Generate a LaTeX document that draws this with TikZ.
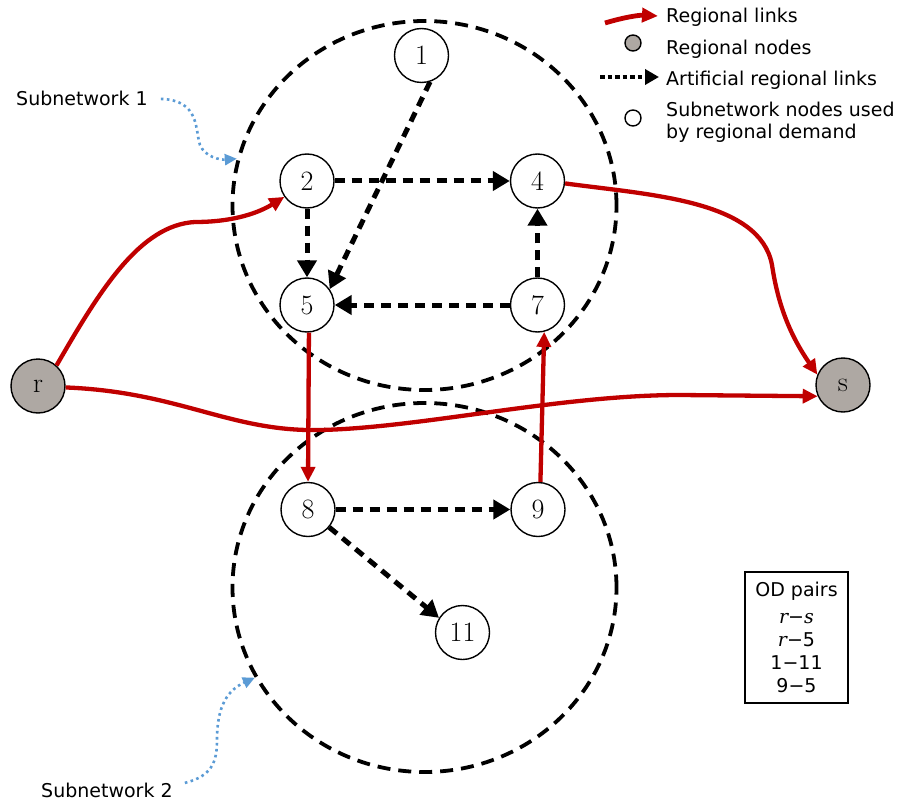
\documentclass[tikz,border=0pt]{standalone}
\usepackage{fontspec}
\newfontfamily\lgd{DejaVu Sans}
\newfontfamily\odserif{DejaVu Serif}
\usetikzlibrary{arrows.meta,shapes.geometric}

\definecolor{linkred}{HTML}{C00000}
\definecolor{regionalgray}{HTML}{AEA8A3}
\definecolor{noteblue}{HTML}{5B9BD5}

\begin{document}
\begin{tikzpicture}[x=1pt,y=-1pt,
  subnet/.style={ellipse, draw, line width=3.8pt, dash pattern=on 13pt off 8pt,
    minimum width=384pt, minimum height=369pt, inner sep=0pt},
  netnode/.style={circle, draw, line width=1.4pt, fill=white, minimum size=54pt,
    inner sep=0pt, font=\fontsize{28}{32}\selectfont},
  regnode/.style={netnode, fill=regionalgray},
  artlink/.style={line width=5pt, dash pattern=on 10pt off 7pt,
    -{Triangle[length=17pt,width=19pt]}},
  reglink/.style={line width=4.3pt, linkred,
    -{Triangle[length=15pt,width=14pt]}},
  notearrow/.style={line width=2.6pt, noteblue, dash pattern=on 2.6pt off 3.4pt,
    -{Triangle[length=12pt,width=11pt]}},
  lgdtext/.style={font=\lgd\fontsize{19}{22}\selectfont, anchor=base west, inner sep=0pt},
  sublabel/.style={font=\lgd\fontsize{19}{22}\selectfont, anchor=base west, inner sep=0pt},
  lgdnode/.style={circle, draw, line width=1.4pt, minimum size=16pt, inner sep=0pt}
]
\useasboundingbox (0,0) rectangle (904,805);

% subnetworks
\node[subnet] (sub1) at (424.5,205.5) {};
\node[subnet] (sub2) at (424.5,587.5) {};

% network nodes
\node[netnode] (n1) at (421.5,55.5) {1};
\node[netnode] (n2) at (307,181) {2};
\node[netnode] (n4) at (537.5,181) {4};
\node[netnode] (n5) at (307,305) {5};
\node[netnode] (n7) at (537.5,305) {7};
\node[netnode] (n8) at (308,509.5) {8};
\node[netnode] (n9) at (538,509.5) {9};
\node[netnode] (n11) at (462.5,632.5) {11};
\node[regnode] (r) at (38,386) {r};
\node[regnode] (s) at (843,385) {s};

% artificial regional links
\draw[artlink] (n2.east) -- (n4.west);
\draw[artlink] (n2.south) -- (n5.north);
\draw[artlink] (n1.-72) -- (n5.35);
\draw[artlink] (n7.west) -- (n5.east);
\draw[artlink] (n7.north) -- (n4.south);
\draw[artlink] (n8.east) -- (n9.west);
\draw[artlink] (n8.-40) -- (n11.148);

% regional links
\draw[reglink] (r.48) .. controls (100,290) and (140,225) .. (195,222)
  .. controls (235,222) and (260,212) .. (n2.215);
\draw[reglink] (r.-3) .. controls (180,392) and (230,432) .. (320,430)
  .. controls (420,428) and (560,395) .. (680,395) -- (s.-156);
\draw[reglink] (n4.-5) .. controls (650,195) and (760,200) .. (772,265)
  .. controls (778,305) and (790,335) .. (s.158);
\draw[reglink] (n5.-86) -- (n8.north);
\draw[reglink] (n9.85) -- (n7.-76);

% subnetwork labels
\node[sublabel] (sn1) at (16,106) {Subnetwork 1};
\node[sublabel] (sn2) at (41,797) {Subnetwork 2};
\draw[notearrow] ([xshift=13pt]sn1.east) .. controls (200,100) and (195,130) .. (200,145)
  .. controls (205,157) and (220,160) .. (sub1.166);
\draw[notearrow] ([xshift=12pt,yshift=7pt]sn2.east) .. controls (212,776) and (217,762) .. (217,740)
  .. controls (217,705) and (228,690) .. (sub2.208);

% legend
\coordinate (lr1) at (605,23);
\coordinate (lr2) at (658,16);
\draw[reglink, line width=4.8pt, -{Triangle[length=16pt,width=14pt]}]
  (lr1) .. controls (625,17) and (640,15) .. (lr2);
\node[lgdnode, fill=regionalgray] (lgn) at (633,43) {};
\coordinate (la1) at (600,77);
\coordinate (la2) at (659,77);
\draw[line width=4.8pt, dash pattern=on 4.5pt off 3pt, -{Triangle[length=14pt,width=15pt]}] (la1) -- (la2);
\node[lgdnode, fill=white] (lwn) at (633,118) {};
\node[lgdtext] (t1) at (666,23) {Regional links};
\node[lgdtext] (t2) at (666,55) {Regional nodes};
\node[lgdtext] (t3) at (666,86) {Artificial regional links};
\node[lgdtext] (t4) at (666,117) {Subnetwork nodes used};
\node[lgdtext] (t5) at (666,138.5) {by regional demand};

% OD pairs
\node[draw, line width=2pt, minimum width=103pt, minimum height=131pt, align=center,
  inner sep=0pt, font=\lgd\fontsize{19}{23}\selectfont] (od) at (796.5,637.5)
  {OD pairs\\[4pt]
   {\odserif\itshape r}−{\odserif\itshape s}\\
   {\odserif\itshape r}−5\\
   1−11\\
   9−5};
\end{tikzpicture}
\end{document}
